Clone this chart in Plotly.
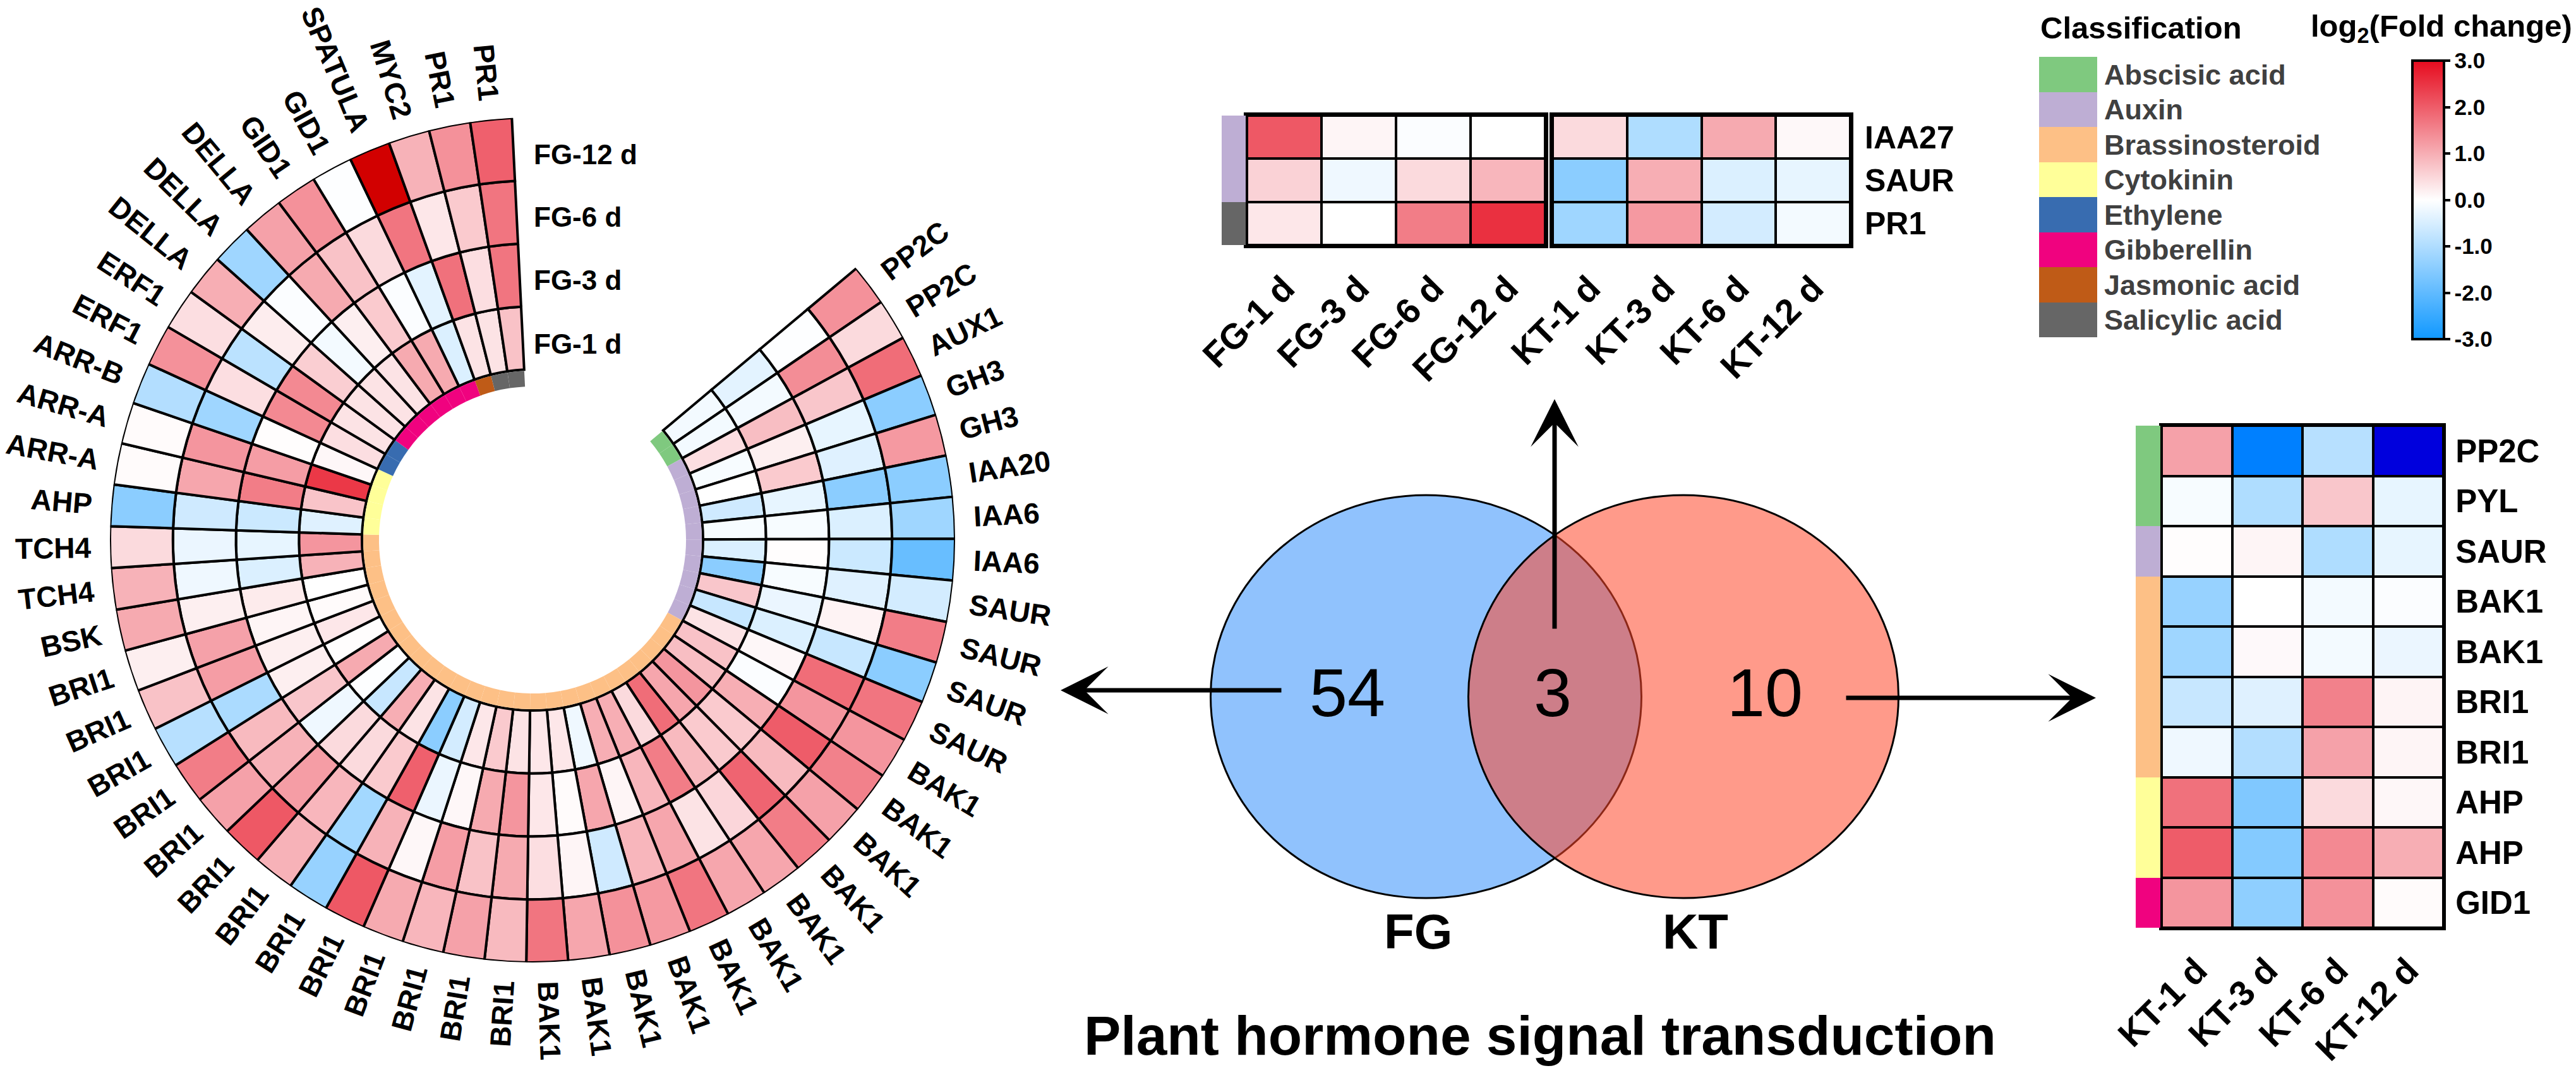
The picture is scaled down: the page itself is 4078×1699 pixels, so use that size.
import math
import plotly.graph_objects as go

W, H = 4078, 1699
FONT = "Liberation Sans"

# ---------- data ----------
genes = ["PP2C","PP2C","AUX1","GH3","GH3","IAA20","IAA6","IAA6","SAUR","SAUR","SAUR","SAUR",
         "BAK1","BAK1","BAK1","BAK1","BAK1","BAK1","BAK1","BAK1","BAK1","BAK1","BAK1",
         "BRI1","BRI1","BRI1","BRI1","BRI1","BRI1","BRI1","BRI1","BRI1","BRI1","BRI1","BRI1","BRI1",
         "BSK","TCH4","TCH4","AHP","ARR-A","ARR-A","ARR-B","ERF1","ERF1","DELLA","DELLA","DELLA",
         "GID1","GID1","SPATULA","MYC2","PR1","PR1"]
gene_class = [0,0]+[1]*10+[2]*27+[3]*4+[4]*2+[5]*6+[6]+[7]*2

fg1 = [-.15,-.15,.4,-.1,0,-.6,-.1,-.45,-1.45,.7,-.7,.35,.75,.8,1.3,1.1,1.8,.45,1.0,1.0,-.2,.3,.3,.35,.65,.3,-.55,-1.45,.35,1.0,-.7,-.02,1.05,.02,.3,.05,0,
       .95,1.3,-.4,.72,2.45,.1,.4,.35,.35,.35,.35,1.05,1.05,-.45,.35,.35,.75]
fg3 = [-.35,-.15,.8,.2,.65,-.3,-.1,.03,-.1,-.25,-.45,.1,-.05,1.0,.65,.65,.85,1.6,.9,.12,1.1,.05,.3,1.3,1.05,.1,-.25,1.95,.65,.45,.45,-.2,.7,.2,.2,.12,.25,
       -.45,-.3,-.65,1.6,1.2,.03,1.45,1.45,.6,-.15,.2,.65,-.05,-.35,1.75,.4,1.7]
fg6 = [-.02,1.4,.7,-.3,-.4,-1.45,-.45,-.65,-.4,.15,-.7,1.8,1.3,2.0,.85,1.9,.5,.35,1.1,.9,-.6,.12,.4,1.05,.75,1.2,.1,.95,-1.15,.9,1.2,.95,.85,-1.05,1.2,1.15,.2,
       -.2,-.25,-.6,1.1,1.3,-1.2,.4,-.85,.22,-.05,1.05,.75,.45,1.7,.3,.65,1.7]
fg12 = [1.35,.45,1.8,-1.45,1.25,-1.45,-1.2,-1.9,-.55,1.6,-1.45,1.7,1.3,1.55,1.15,1.6,1.1,1.1,1.7,1.25,1.35,1.1,1.7,.85,1.15,.9,1.05,2.05,-1.3,.95,2.05,1.15,1.6,-.9,.75,.2,1.05,
        .95,.45,-1.45,.05,.05,-.95,1.35,.4,1.0,-1.2,1.15,1.35,-.02,3.5,.95,1.35,1.95]
rings = [("FG-1 d", fg1), ("FG-3 d", fg3), ("FG-6 d", fg6), ("FG-12 d", fg12)]

class_names = ["Abscisic acid","Auxin","Brassinosteroid","Cytokinin","Ethylene","Gibberellin","Jasmonic acid","Salicylic acid"]
class_colors = ["#7FC97F","#BEAED4","#FDC086","#FFFF99","#386CB0","#F0027F","#BF5B17","#666666"]

shared_genes = ["IAA27","SAUR","PR1"]
shared_class = [1,1,7]
shared_fg_cols = ["FG-1 d","FG-3 d","FG-6 d","FG-12 d"]
shared_kt_cols = ["KT-1 d","KT-3 d","KT-6 d","KT-12 d"]
shared_fg = [[2.05,.12,-.05,0],[.55,-.2,.45,.9],[.3,0,1.6,2.55]]
shared_kt = [[.45,-1.0,1.05,.08],[-1.45,1.0,-.45,-.3],[-1.2,1.25,-.55,-.15]]

kt_genes = ["PP2C","PYL","SAUR","BAK1","BAK1","BRI1","BRI1","AHP","AHP","GID1"]
kt_class = [0,0,1,2,2,2,2,3,3,5]
kt_vals = [[1.15,-3.5,-.9,-5],[-.1,-1.0,.7,-.3],[.03,.12,-1.0,-.3],[-1.3,0,-.15,-.05],[-1.2,.07,-.15,-.25],
           [-.7,-.4,1.55,.13],[-.2,-.95,1.15,.12],[1.75,-1.6,.45,.1],[2.0,-1.55,1.45,1.0],[1.3,-1.4,1.35,.05]]

venn_counts = ["54","3","10"]
venn_names = ["FG","KT"]
cbar_ticks = [-3,-2,-1,0,1,2,3]
cbar_labels = ["-3.0","-2.0","-1.0","0.0","1.0","2.0","3.0"]

# ---------- colour scales ----------
ZMIN, ZMAX = -5.0, 3.5
def stop(v): return (v - ZMIN) / (ZMAX - ZMIN)
full_scale = [[stop(-5),"#0000DD"],[stop(-3.5),"#0080FF"],[stop(-3),"#1098FF"],[stop(0),"#FFFFFF"],[stop(3),"#E60B1E"],[stop(3.5),"#D20000"]]
bar_scale = [[0,"#1098FF"],[.5,"#FFFFFF"],[1,"#E60B1E"]]
n = len(class_colors)
class_scale = []
for k, c in enumerate(class_colors):
    class_scale += [[k/n, c], [(k+1)/n, c]]

def px(x, y): return x/W, 1-y/H
def dx(a, b): return [a/W, b/W]
def dy(top, bottom): return [1-bottom/H, 1-top/H]

fig = go.Figure()
layout = dict(width=W, height=H, margin=dict(l=0,r=0,t=0,b=0,autoexpand=False), paper_bgcolor="white", plot_bgcolor="black",
              showlegend=False, font=dict(family=FONT, color="black"))
anns = []

# ---------- circular heat map ----------
CX, CY, R, RIN = 843, 855, 669, 270
START, END = 40.0, -267.2   # angle of the first and last ray
step = (START-END)/len(genes)
unit = (R-RIN)/4
thetas = [(i+.5)*step for i in range(len(genes))]
for k, (name, vals) in enumerate(rings):
    fig.add_trace(go.Barpolar(r=[1]*len(vals), base=[k]*len(vals), theta=thetas, width=[step]*len(vals),
        marker=dict(color=vals, colorscale=full_scale, cmin=ZMIN, cmax=ZMAX, line=dict(color="black", width=4)),
        hovertext=genes, name=name, showlegend=False))
fig.add_trace(go.Barpolar(r=[.25]*len(genes), base=[-.27]*len(genes), theta=thetas, width=[step]*len(genes),
    marker=dict(color=[class_colors[c] for c in gene_class], line=dict(width=0)), showlegend=False))
layout["polar"] = dict(domain=dict(x=dx(CX-R,CX+R), y=dy(CY-R,CY+R)), bgcolor="rgba(0,0,0,0)",
    radialaxis=dict(range=[-RIN/unit,4], visible=False),
    angularaxis=dict(direction="clockwise", rotation=START, visible=False, thetaunit="degrees"))

# ---------- colour bar (owned by an invisible marker inside the polar subplot) ----------
fig.add_trace(go.Scatterpolar(r=[0], theta=[0], mode="markers", hoverinfo="skip", showlegend=False,
    marker=dict(color=[0], colorscale=bar_scale, cmin=-3, cmax=3, opacity=0, showscale=True,
        colorbar=dict(x=3819/W, xanchor="left", y=1-537/H, yanchor="bottom", len=(537-96)/H, lenmode="fraction",
            thickness=50, thicknessmode="pixels", outlinewidth=4, outlinecolor="black", xpad=0, ypad=0,
            tickmode="array", tickvals=cbar_ticks, ticktext=cbar_labels, ticks="outside", ticklen=8, tickwidth=4, tickcolor="black",
            tickfont=dict(size=35, weight="bold", family=FONT)))))

CW = {"A":.722,"B":.722,"C":.722,"D":.722,"E":.667,"F":.611,"G":.778,"H":.722,"I":.278,"K":.722,"L":.611,"M":.833,
      "P":.667,"R":.722,"S":.667,"T":.611,"U":.722,"X":.667,"Y":.667,"-":.333,"0":.556,"1":.556,"2":.556,"4":.556,"6":.556,"3":.556}
LAB = 46
for i, g in enumerate(genes):
    th = START-(i+.5)*step
    c, s = math.cos(math.radians(th)), math.sin(math.radians(th))
    w = sum(CW[ch] for ch in g)*LAB
    rr = R+30+w/2
    ang = -th if c >= 0 else 180-th
    ang = (ang+180) % 360 - 180
    x, y = px(CX+rr*c, CY-rr*s)
    anns.append(dict(x=x, y=y, xref="paper", yref="paper", text=g, showarrow=False, textangle=ang,
                     xanchor="center", yanchor="middle", font=dict(size=LAB, weight="bold", family=FONT)))
for (name, _), yy in zip(rings, [545,444,344,244]):
    x, y = px(843, yy)
    anns.append(dict(x=x, y=y, xref="paper", yref="paper", text=name, showarrow=False, xanchor="left", yanchor="middle",
                     font=dict(size=44, weight="bold", family=FONT)))

# ---------- helper for cell panels ----------
axn = [1]
def add_heat(z, xs, ys, xdom, ydom, colorscale, zmin, zmax, xgap=0, ygap=0, side=None, ticksize=50, xticks=False, tickcolor="black", xsize=56, standoff=8, outline=0):
    k = axn[0]; axn[0] += 1
    xa, ya = ("x", "y") if k == 1 else (f"x{k}", f"y{k}")
    fig.add_trace(go.Heatmap(z=z, x=xs, y=ys, xaxis=xa, yaxis=ya, colorscale=colorscale, zmin=zmin, zmax=zmax,
                             showscale=False, xgap=xgap, ygap=ygap))
    sfx = "" if k == 1 else str(k)
    layout["xaxis"+sfx] = dict(domain=dx(*xdom), anchor=ya, type="category", showgrid=False, zeroline=False, fixedrange=True,
        showticklabels=xticks, ticks="", tickangle=-45, tickfont=dict(size=xsize, weight="bold", family=FONT), ticklabelstandoff=8,
        showline=outline > 0, mirror=outline > 0, linewidth=max(outline,1), linecolor="black")
    layout["yaxis"+sfx] = dict(domain=dy(*ydom), anchor=xa, type="category", autorange="reversed", showgrid=False, zeroline=False,
        showticklabels=side is not None, side=side or "left", ticks="", fixedrange=True,
        tickfont=dict(size=ticksize, weight="bold", family=FONT, color=tickcolor), ticklabelstandoff=standoff,
        showline=outline > 0, mirror=outline > 0, linewidth=max(outline,1), linecolor="black")
    return k

# repeated names (BAK1, BAK1...) need their own row, so y holds positions and labels are set afterwards
def set_rows(k, labels):
    sfx = "" if k == 1 else str(k)
    layout["yaxis"+sfx].update(tickmode="array", tickvals=list(range(len(labels))), ticktext=labels, type="linear",
                               range=[len(labels)-.5, -.5], autorange=False)

TOP = (183, 388)
a = add_heat(shared_fg, shared_fg_cols, list(range(3)), (1974,2446), TOP, full_scale, ZMIN, ZMAX, xgap=4, ygap=4, xticks=True, outline=5)
set_rows(a, shared_genes); layout["yaxis"]["showticklabels"] = False
b = add_heat(shared_kt, shared_kt_cols, list(range(3)), (2458,2929), TOP, full_scale, ZMIN, ZMAX, xgap=4, ygap=4, xticks=True, side="right", outline=5)
set_rows(b, shared_genes)
c = add_heat([[v] for v in shared_class], ["c"], list(range(3)), (1934,1972), TOP, class_scale, -.5, 7.5)
set_rows(c, shared_genes); layout[f"yaxis{c}"]["showticklabels"] = False; layout[f"xaxis{c}"]["visible"] = False

RT = (674, 1469)
d = add_heat(kt_vals, shared_kt_cols, list(range(10)), (3422,3868), RT, full_scale, ZMIN, ZMAX, xgap=4, ygap=4, xticks=True, side="right", ticksize=51, standoff=5, outline=4)
set_rows(d, kt_genes)
e = add_heat([[v] for v in kt_class], ["c"], list(range(10)), (3381,3420), RT, class_scale, -.5, 7.5)
set_rows(e, kt_genes); layout[f"yaxis{e}"]["showticklabels"] = False; layout[f"xaxis{e}"]["visible"] = False

f = add_heat([[i] for i in range(8)], ["c"], list(range(8)), (3228,3320), (90,534), class_scale, -.5, 7.5, side="right", ticksize=45, tickcolor="#404040", standoff=10)
set_rows(f, class_names); layout[f"xaxis{f}"]["visible"] = False

# ---------- Venn diagram ----------
def ellipse(cx, cy, rx, ry, fill):
    x0, y0 = px(cx-rx, cy-ry); x1, y1 = px(cx+rx, cy+ry)
    return dict(type="circle", xref="paper", yref="paper", x0=x0, y0=y1, x1=x1, y1=y0, fillcolor=fill,
                line=dict(color="black", width=3), layer="below")
layout["shapes"] = [ellipse(2257.5,1103,341,319,"rgb(144,194,253)"), ellipse(2665,1103,340.5,319,"rgba(255,71,42,0.55)")]

def text(s, xx, yy, size, bold=False, anchor="center", color="black"):
    x, y = px(xx, yy)
    anns.append(dict(x=x, y=y, xref="paper", yref="paper", text=s, showarrow=False, xanchor=anchor, yanchor="middle",
                     font=dict(size=size, weight="bold" if bold else "normal", family=FONT, color=color)))
for s, xx in zip(venn_counts, [2133,2458,2794]):
    text(s, xx, 1096, 108)
for s, xx in zip(venn_names, [2245,2684]):
    text(s, xx, 1475, 78, True)
text("Plant hormone signal transduction", 2438, 1640, 87.5, True)
text("Classification", 3228, 44, 49, True, "left")
text("log<sub>2</sub>(Fold change)", 3656, 44, 49, True, "left")

def arrow(tipx, tipy, tailx, taily):
    x, y = px(tipx, tipy)
    anns.append(dict(x=x, y=y, xref="paper", yref="paper", ax=tailx-tipx, ay=taily-tipy, axref="pixel", ayref="pixel", text="",
                     showarrow=True, arrowhead=3, arrowsize=1.8, arrowwidth=7, arrowcolor="black", standoff=0, startstandoff=0))
arrow(2461,632,2461,997)
arrow(1679,1093,2030,1093)
arrow(3318,1105,2921,1105)

layout["annotations"] = anns
fig.update_layout(**layout)
assert all(len(v) == len(genes) for _, v in rings) and len(gene_class) == len(genes)
fig.write_html("out.html", config=dict(displayModeBar=False),
               post_script="document.body.style.margin='0';document.documentElement.style.overflow='hidden';")
